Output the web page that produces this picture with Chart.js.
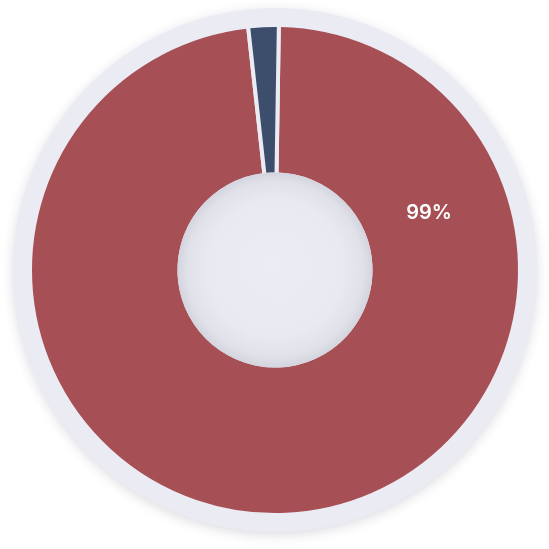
<!DOCTYPE html>
<html>
<head>
<meta charset="utf-8">
<script src="https://cdn.jsdelivr.net/npm/chart.js@4/dist/chart.umd.min.js"></script>
<style>
  html, body { margin: 0; padding: 0; background: #ffffff; }
  #wrap { width: 549px; height: 549px; position: relative; }
</style>
</head>
<body>
<div id="wrap"><canvas id="c" width="549" height="549"></canvas></div>
<script>
const categories = ["A", "B"];
const values = [98, 2];
const labelTexts = ["99%", ""];
const colors = ["#a65056", "#3d4e6c"];

const decorPlugin = {
  id: 'decor',
  beforeDatasetsDraw(chart) {
    const arc = chart.getDatasetMeta(0).data[0];
    if (!arc) return;
    const { x, y, outerRadius } = arc.getProps(['x', 'y', 'outerRadius'], true);
    const ctx = chart.ctx;
    ctx.save();
    ctx.shadowColor = 'rgba(40,40,70,0.16)';
    ctx.shadowBlur = 12;
    ctx.shadowOffsetY = 3;
    ctx.beginPath();
    ctx.arc(x, y, outerRadius + 17, 0, Math.PI * 2);
    ctx.fillStyle = '#ebebf4';
    ctx.fill();
    ctx.restore();
  },
  afterDatasetsDraw(chart) {
    const meta = chart.getDatasetMeta(0);
    const arc = meta.data[0];
    if (!arc) return;
    const { x, y, outerRadius, innerRadius } = arc.getProps(['x', 'y', 'outerRadius', 'innerRadius'], true);
    const ctx = chart.ctx;
    ctx.save();
    const g = ctx.createRadialGradient(x, y - 6, 0, x, y, innerRadius + 2);
    g.addColorStop(0, '#ececf4');
    g.addColorStop(0.7, '#e9e9f1');
    g.addColorStop(0.9, '#e0e1e9');
    g.addColorStop(1, '#d3d4dd');
    ctx.beginPath();
    ctx.arc(x, y, innerRadius + 2, 0, Math.PI * 2);
    ctx.fillStyle = g;
    ctx.fill();
    ctx.font = '600 20px Inter, "Open Sans", sans-serif';
    ctx.fillStyle = '#ffffff';
    ctx.textAlign = 'center';
    ctx.textBaseline = 'middle';
    const ang = -20.4 * Math.PI / 180;
    const r = innerRadius + (outerRadius - innerRadius) * 0.46;
    labelTexts.forEach((t) => {
      if (!t) return;
      ctx.fillText(t, x + Math.cos(ang) * r, y + Math.sin(ang) * r);
    });
    ctx.restore();
  }
};

new Chart(document.getElementById('c'), {
  type: 'doughnut',
  data: {
    labels: categories,
    datasets: [{
      data: values,
      backgroundColor: colors,
      borderColor: '#ebebf4',
      borderWidth: 4,
      borderRadius: 2,
      hoverOffset: 0
    }]
  },
  options: {
    responsive: false,
    animation: false,
    rotation: 0.9,
    cutout: '39%',
    layout: { padding: { left: 28, right: 27, top: 23, bottom: 32 } },
    plugins: {
      legend: { display: false },
      tooltip: { enabled: false }
    }
  },
  plugins: [decorPlugin]
});
</script>
</body>
</html>
